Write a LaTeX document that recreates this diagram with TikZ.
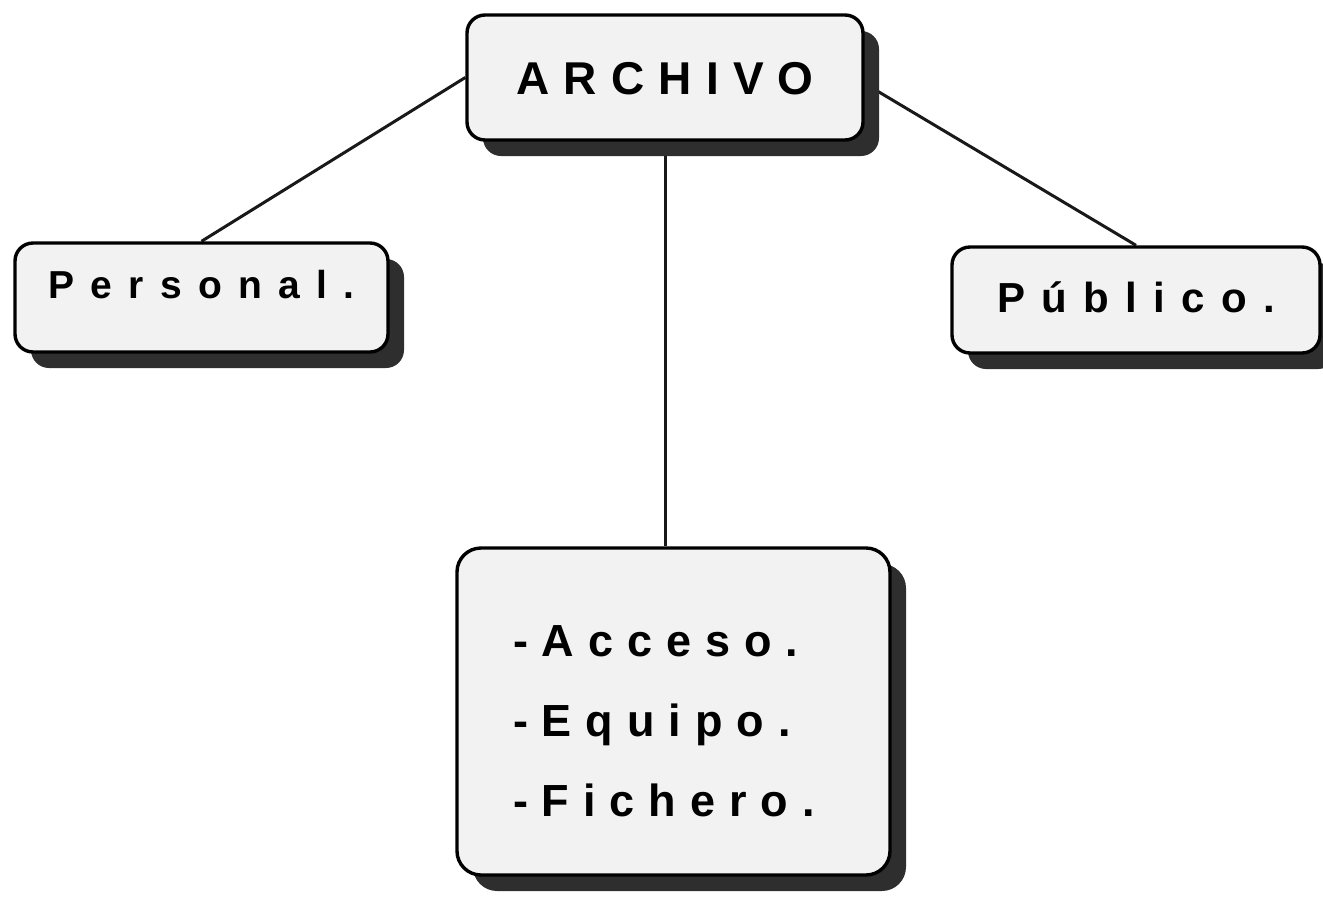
\documentclass[tikz,border=0pt]{standalone}
\usepackage{fontspec}
\setmainfont{Liberation Sans}
\usetikzlibrary{shadows,backgrounds}

\newcommand{\rotulo}[2]{\fontsize{#1}{80}\selectfont\bfseries\addfontfeatures{LetterSpace=#2}}

\begin{document}
\begin{tikzpicture}[x=1pt,y=-1pt,
		caja/.style={draw=black, line width=3.4pt, fill=black!5,
			rounded corners=18pt, inner sep=0pt,
			drop shadow={shadow xshift=16pt, shadow yshift=-16pt,
				fill=black!82, opacity=1}},
		enlace/.style={draw=black!90, line width=3pt}]
		
		% The page keeps the size of the original scan
		\useasboundingbox (0,0) rectangle (1323,898);
		
		\node[caja, minimum width=396pt, minimum height=125pt,
			text height=33pt, text depth=0pt, font=\rotulo{46}{31}]
			(archivo) at (665,77.5) {ARCHIVO};
		\node[caja, minimum width=373pt, minimum height=109pt,
			text height=20pt, text depth=19pt, font=\rotulo{39}{42}]
			(personal) at (201.5,297.5) {Personal.};
		\node[caja, minimum width=368pt, minimum height=106pt,
			text height=30pt, text depth=6pt, font=\rotulo{42}{39}]
			(publico) at (1136,300) {Público.};
		\node[caja, rounded corners=24pt, minimum height=327pt,
			text width=321pt, inner xsep=56pt, align=left,
			font=\rotulo{45}{31}]
			(lista) at (673.5,711.5)
			{\rule{0pt}{50pt}-Acceso.\\-Equipo.\\-Fichero.};
		
		\begin{scope}[on background layer]
			\draw[enlace] (archivo.west) -- (personal.north);
			\draw[enlace] ([yshift=-6pt]archivo.east) -- (publico.north);
			\draw[enlace] (archivo.south) -- (archivo.south |- lista.north);
		\end{scope}
		
	\end{tikzpicture}
\end{document}
